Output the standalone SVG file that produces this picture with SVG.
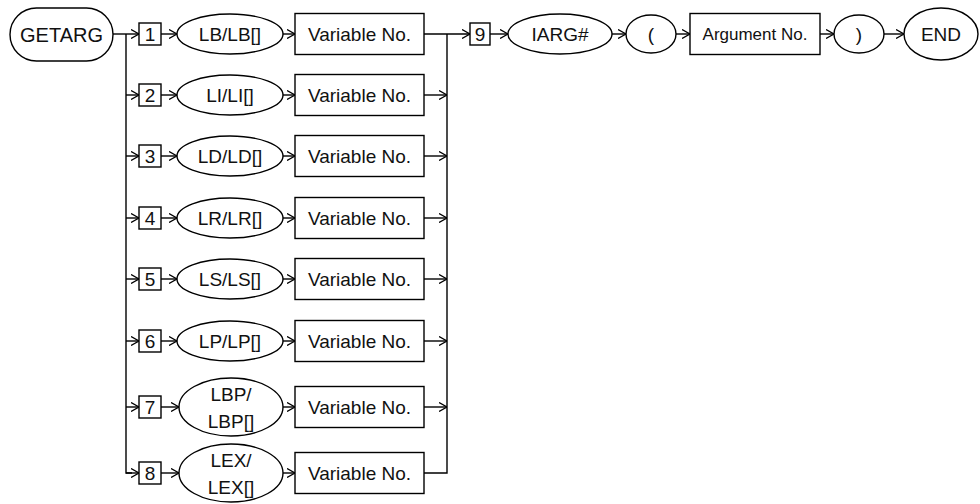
<svg xmlns="http://www.w3.org/2000/svg" width="980" height="504" viewBox="0 0 980 504">
<defs>
<marker id="ah" viewBox="0 0 8 10" refX="8" refY="5" markerWidth="8" markerHeight="10" markerUnits="userSpaceOnUse" orient="auto">
<path d="M0,0.5 L8,5 L0,9.5" fill="none" stroke="#000" stroke-width="1.3"/>
</marker>
</defs>
<style>
.s{fill:#fff;stroke:#000;stroke-width:1.4}
.c{fill:none;stroke:#000;stroke-width:1.4}
.a{marker-end:url(#ah)}
text{font-family:"Liberation Sans",Arial,sans-serif;fill:#111;text-anchor:middle}
.t20{font-size:20px}
.t19{font-size:19px}
.t18{font-size:19px}
.t17{font-size:17px}
</style>
<g id="connectors">
<path class="c a" d="M113,34 H139"/>
<path class="c" d="M126,34 V473 H132"/>
<path class="c a" d="M126,95 H139"/>
<path class="c a" d="M126,156 H139"/>
<path class="c a" d="M126,218 H139"/>
<path class="c a" d="M126,279 H139"/>
<path class="c a" d="M126,341 H139"/>
<path class="c a" d="M126,407 H139"/>
<path class="c a" d="M126,473 H139"/>
<path class="c a" d="M161,34 H177"/>
<path class="c a" d="M161,95 H177"/>
<path class="c a" d="M161,156 H177"/>
<path class="c a" d="M161,218 H177"/>
<path class="c a" d="M161,279 H177"/>
<path class="c a" d="M161,341 H177"/>
<path class="c a" d="M161,407 H179"/>
<path class="c a" d="M161,473 H179"/>
<path class="c a" d="M283,34 H295"/>
<path class="c a" d="M283,95 H295"/>
<path class="c a" d="M283,156 H295"/>
<path class="c a" d="M283,218 H295"/>
<path class="c a" d="M283,279 H295"/>
<path class="c a" d="M283,341 H295"/>
<path class="c a" d="M283,407 H295"/>
<path class="c a" d="M283,473 H295"/>
<path class="c a" d="M424,34 H470"/>
<path class="c" d="M447,34 V473 H424"/>
<path class="c a" d="M424,95 H447"/>
<path class="c a" d="M424,156 H447"/>
<path class="c a" d="M424,218 H447"/>
<path class="c a" d="M424,279 H447"/>
<path class="c a" d="M424,341 H447"/>
<path class="c a" d="M424,407 H447"/>
<path class="c a" d="M490,34 H508"/>
<path class="c a" d="M612,34 H626"/>
<path class="c a" d="M676,34 H690"/>
<path class="c a" d="M820,34 H834"/>
<path class="c a" d="M884,34 H904"/>
</g>
<g id="getarg"><rect class="s" x="10" y="8" width="103" height="53" rx="26.5"/><text class="t20" x="61.5" y="41.5">GETARG</text></g>
<g id="n1"><rect class="s" x="139" y="23" width="22" height="22"/><text class="t18" x="150" y="41">1</text></g>
<g id="n2"><rect class="s" x="139" y="84" width="22" height="22"/><text class="t18" x="150" y="102">2</text></g>
<g id="n3"><rect class="s" x="139" y="145" width="22" height="22"/><text class="t18" x="150" y="163">3</text></g>
<g id="n4"><rect class="s" x="139" y="207" width="22" height="22"/><text class="t18" x="150" y="225">4</text></g>
<g id="n5"><rect class="s" x="139" y="268" width="22" height="22"/><text class="t18" x="150" y="286">5</text></g>
<g id="n6"><rect class="s" x="139" y="330" width="22" height="22"/><text class="t18" x="150" y="348">6</text></g>
<g id="n7"><rect class="s" x="139" y="396" width="22" height="22"/><text class="t18" x="150" y="414">7</text></g>
<g id="n8"><rect class="s" x="139" y="462" width="22" height="22"/><text class="t18" x="150" y="480">8</text></g>
<g id="e1"><ellipse class="s" cx="230" cy="34" rx="53" ry="20"/><text class="t19" x="230" y="41">LB/LB[]</text></g>
<g id="e2"><ellipse class="s" cx="230" cy="95" rx="53" ry="20"/><text class="t19" x="230" y="102">LI/LI[]</text></g>
<g id="e3"><ellipse class="s" cx="230" cy="156" rx="53" ry="20"/><text class="t19" x="230" y="163">LD/LD[]</text></g>
<g id="e4"><ellipse class="s" cx="230" cy="218" rx="53" ry="20"/><text class="t19" x="230" y="225">LR/LR[]</text></g>
<g id="e5"><ellipse class="s" cx="230" cy="279" rx="53" ry="20"/><text class="t19" x="230" y="286">LS/LS[]</text></g>
<g id="e6"><ellipse class="s" cx="230" cy="341" rx="53" ry="20"/><text class="t19" x="230" y="348">LP/LP[]</text></g>
<g id="e7"><ellipse class="s" cx="231" cy="407" rx="52" ry="29"/><text class="t19" x="231" y="401">LBP/</text><text class="t19" x="231" y="428">LBP[]</text></g>
<g id="e8"><ellipse class="s" cx="231" cy="473" rx="52" ry="29"/><text class="t19" x="231" y="467">LEX/</text><text class="t19" x="231" y="494">LEX[]</text></g>
<g id="v1"><rect class="s" x="295" y="13.5" width="129" height="41"/><text class="t18" x="359.5" y="41">Variable No.</text></g>
<g id="v2"><rect class="s" x="295" y="74.5" width="129" height="41"/><text class="t18" x="359.5" y="102">Variable No.</text></g>
<g id="v3"><rect class="s" x="295" y="135.5" width="129" height="41"/><text class="t18" x="359.5" y="163">Variable No.</text></g>
<g id="v4"><rect class="s" x="295" y="197.5" width="129" height="41"/><text class="t18" x="359.5" y="225">Variable No.</text></g>
<g id="v5"><rect class="s" x="295" y="258.5" width="129" height="41"/><text class="t18" x="359.5" y="286">Variable No.</text></g>
<g id="v6"><rect class="s" x="295" y="320.5" width="129" height="41"/><text class="t18" x="359.5" y="348">Variable No.</text></g>
<g id="v7"><rect class="s" x="295" y="386.5" width="129" height="41"/><text class="t18" x="359.5" y="414">Variable No.</text></g>
<g id="v8"><rect class="s" x="295" y="452.5" width="129" height="41"/><text class="t18" x="359.5" y="480">Variable No.</text></g>
<g id="n9"><rect class="s" x="470" y="23" width="20" height="22"/><text class="t18" x="480" y="41">9</text></g>
<g id="iarg"><ellipse class="s" cx="560" cy="34" rx="52" ry="20"/><text class="t19" x="560" y="41">IARG#</text></g>
<g id="lparen"><ellipse class="s" cx="651" cy="34" rx="25" ry="19"/><text class="t19" x="651" y="41">(</text></g>
<g id="argno"><rect class="s" x="690" y="13.5" width="130" height="41"/><text class="t17" x="755" y="40">Argument No.</text></g>
<g id="rparen"><ellipse class="s" cx="859" cy="34" rx="25" ry="19"/><text class="t19" x="859" y="41">)</text></g>
<g id="end"><ellipse class="s" cx="941" cy="34" rx="37" ry="26"/><text class="t19" x="941" y="41">END</text></g>
</svg>
